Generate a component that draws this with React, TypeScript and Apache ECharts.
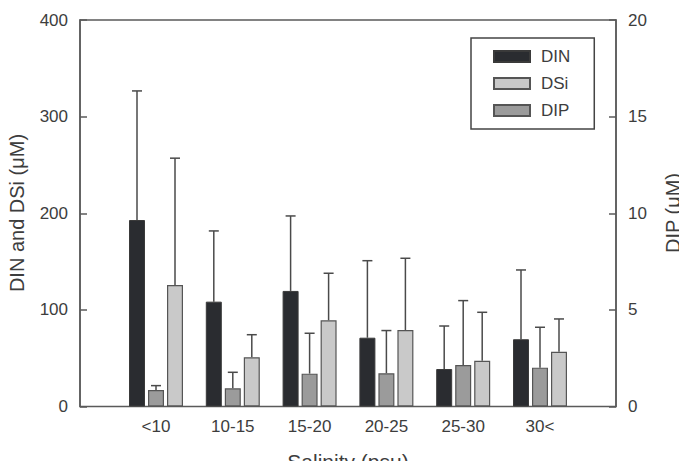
import React, { useEffect, useRef } from "react";
import * as echarts from "echarts";

// Salinity classes
const categories = ["<10", "10-15", "15-20", "20-25", "25-30", "30<"];

// Mean concentrations (µM)
const dinMean = [193, 108.5, 119.6, 71.2, 38.8, 69.6];
const dsiMean = [125.8, 51, 89.2, 79.2, 47.4, 56.7];
const dipMean = [0.85, 0.94, 1.7, 1.72, 2.15, 2.01];

// Upper end of the error bars (mean + SD, µM)
const dinUpper = [326.6, 181.7, 197.2, 150.9, 83.3, 141.3];
const dsiUpper = [257, 74.3, 137.9, 153.4, 97.5, 90.6];
const dipUpper = [1.08, 1.77, 3.79, 3.93, 5.48, 4.1];

const leftTicks = [0, 100, 200, 300, 400];
const rightTicks = [0, 5, 10, 15, 20];

const FONT = "'Liberation Sans', Arial, sans-serif";
const TEXT = "#3d3d3d";
const AXIS = "#5a5a5a";

const BAR_W = 16;
const BAR_STEP = 19;

function errorSeries(
  name: string,
  mean: number[],
  upper: number[],
  yAxisIndex: number,
  offset: number
) {
  return {
    type: "custom",
    name: name + "-err",
    xAxisIndex: 1,
    yAxisIndex,
    silent: true,
    z: 1,
    encode: { x: 0, y: [1, 2] },
    data: mean.map((m, i) => [i, m, upper[i]]),
    renderItem: (params: any, api: any) => {
      const base = api.coord([api.value(0), api.value(1)]);
      const top = api.coord([api.value(0), api.value(2)]);
      const x = base[0] + offset;
      const style = { stroke: "#4a4a4a", lineWidth: 1.5 };
      return {
        type: "group",
        children: [
          { type: "line", shape: { x1: x, y1: base[1], x2: x, y2: top[1] }, style },
          { type: "line", shape: { x1: x - 5, y1: top[1], x2: x + 5, y2: top[1] }, style },
        ],
      };
    },
  };
}

export default function App() {
  const ref = useRef<HTMLDivElement>(null);

  useEffect(() => {
    if (!ref.current) return;
    const chart = echarts.init(ref.current, null, { renderer: "svg" });

    const tickLabel = { color: TEXT, fontSize: 17, fontFamily: FONT, margin: 12 };

    chart.setOption({
      animation: false,
      backgroundColor: "#ffffff",
      textStyle: { fontFamily: FONT },
      grid: [
        { left: 80, right: 71, top: 20, bottom: 62.5, show: true, borderColor: AXIS, borderWidth: 1.5 },
        { left: 117.6, right: 108.6, top: 20, bottom: 62.5 },
      ],
      legend: {
        data: ["DIN", "DSi", "DIP"],
        orient: "vertical",
        left: 471,
        top: 38,
        itemWidth: 36,
        itemHeight: 11,
        itemGap: 10,
        icon: "rect",
        padding: [10, 24, 10, 22],
        borderColor: "#444",
        borderWidth: 1.5,
        textStyle: { color: TEXT, fontSize: 17, fontFamily: FONT, padding: [0, 0, 0, 6] },
      },
      xAxis: [
        { gridIndex: 0, type: "value", min: 0, max: 1, show: false },
        {
          gridIndex: 1,
          type: "category",
          data: categories,
          axisLine: { show: false },
          axisTick: { show: false },
          axisLabel: { color: TEXT, fontSize: 17, fontFamily: FONT, margin: 11 },
        },
      ],
      yAxis: [
        {
          gridIndex: 0,
          type: "value",
          min: 0,
          max: 400,
          interval: 100,
          position: "left",
          axisLine: { show: true, lineStyle: { color: AXIS, width: 1.5 } },
          axisTick: { show: true, inside: true, length: 7, lineStyle: { color: AXIS, width: 1.5 } },
          axisLabel: { ...tickLabel, formatter: (v: number) => (leftTicks.includes(v) ? String(v) : "") },
          splitLine: { show: false },
        },
        {
          gridIndex: 0,
          type: "value",
          min: 0,
          max: 20,
          interval: 5,
          position: "right",
          axisLine: { show: true, lineStyle: { color: AXIS, width: 1.5 } },
          axisTick: { show: true, inside: true, length: 7, lineStyle: { color: AXIS, width: 1.5 } },
          axisLabel: { ...tickLabel, formatter: (v: number) => (rightTicks.includes(v) ? String(v) : "") },
          splitLine: { show: false },
        },
        { gridIndex: 1, type: "value", min: 0, max: 400, show: false, splitLine: { show: false } },
        { gridIndex: 1, type: "value", min: 0, max: 20, show: false, splitLine: { show: false } },
      ],
      series: [
        {
          name: "DIN",
          type: "bar",
          xAxisIndex: 1,
          yAxisIndex: 2,
          barWidth: BAR_W,
          barGap: "18.75%",
          z: 2,
          itemStyle: { color: "#2a2c30", borderColor: "#3a3a3a", borderWidth: 1 },
          data: dinMean,
        },
        {
          name: "DIP",
          type: "bar",
          xAxisIndex: 1,
          yAxisIndex: 3,
          barWidth: BAR_W,
          barGap: "18.75%",
          z: 2,
          itemStyle: { color: "#9b9b9b", borderColor: "#555555", borderWidth: 1.2 },
          data: dipMean,
        },
        {
          name: "DSi",
          type: "bar",
          xAxisIndex: 1,
          yAxisIndex: 2,
          barWidth: BAR_W,
          barGap: "18.75%",
          z: 2,
          itemStyle: { color: "#c9c9c9", borderColor: "#555555", borderWidth: 1.2 },
          data: dsiMean,
        },
        errorSeries("DIN", dinMean, dinUpper, 2, -BAR_STEP),
        errorSeries("DIP", dipMean, dipUpper, 3, 0),
        errorSeries("DSi", dsiMean, dsiUpper, 2, BAR_STEP),
      ],
      graphic: [
        {
          type: "text",
          x: 17,
          y: 213,
          rotation: Math.PI / 2,
          style: {
            text: "DIN and DSi (\u03bcM)",
            fill: TEXT,
            font: `20px ${FONT}`,
            textAlign: "center",
            textVerticalAlign: "middle",
          },
        },
        {
          type: "text",
          x: 673,
          y: 213,
          rotation: Math.PI / 2,
          style: {
            text: "DIP (\u03bcM)",
            fill: TEXT,
            font: `20px ${FONT}`,
            textAlign: "center",
            textVerticalAlign: "middle",
          },
        },
        {
          type: "text",
          x: 348,
          y: 461,
          style: {
            text: "Salinity (psu)",
            fill: TEXT,
            font: `21px ${FONT}`,
            textAlign: "center",
            textVerticalAlign: "middle",
          },
        },
      ],
    });

    return () => chart.dispose();
  }, []);

  return <div ref={ref} style={{ width: 687, height: 469, margin: -8 }} />;
}
